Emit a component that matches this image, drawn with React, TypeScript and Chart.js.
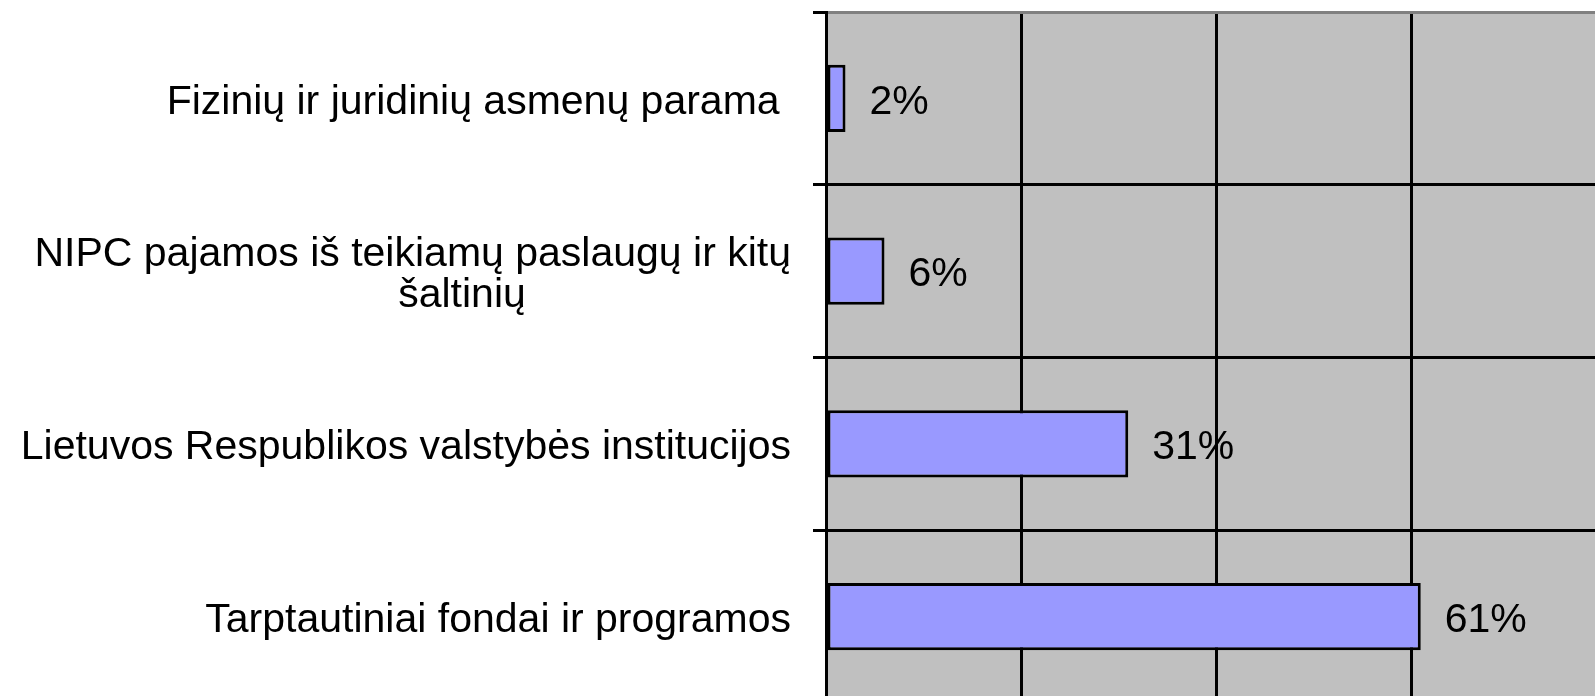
import React, { useEffect, useRef } from "react";
import { Chart, registerables } from "chart.js";

Chart.register(...registerables);

const categories: string[][] = [
  ["Fizinių ir juridinių asmenų parama "],
  ["NIPC pajamos iš teikiamų paslaugų ir kitų", "šaltinių"],
  ["Lietuvos Respublikos valstybės institucijos"],
  ["Tarptautiniai fondai ir programos"],
];
const values: number[] = [2, 6, 31, 61];
const xMin = 0;
const xMax = 80;
const xStep = 20;

const FONT = '41px "Liberation Sans", Arial, sans-serif';

const bgPlugin = {
  id: "plotBg",
  beforeDraw(chart: any) {
    const { ctx, chartArea } = chart;
    ctx.save();
    ctx.fillStyle = "#C0C0C0";
    ctx.fillRect(chartArea.left, chartArea.top, chartArea.right - chartArea.left, chartArea.bottom - chartArea.top);
    ctx.restore();
  },
  afterDraw(chart: any) {
    const { ctx, chartArea } = chart;
    ctx.save();
    ctx.strokeStyle = "#808080";
    ctx.lineWidth = 3;
    ctx.beginPath();
    ctx.moveTo(chartArea.left + 2, chartArea.top + 0.5);
    ctx.lineTo(chartArea.right, chartArea.top + 0.5);
    ctx.stroke();
    ctx.restore();
  },
};

const labelPlugin = {
  id: "labels",
  afterDraw(chart: any) {
    const { ctx, chartArea } = chart;
    const yScale = chart.scales.y;
    ctx.save();
    ctx.font = FONT;
    ctx.fillStyle = "#000";
    ctx.textBaseline = "middle";
    const right = chartArea.left - 35;
    const dy = 4;
    categories.forEach((lines, i) => {
      const cy = yScale.getPixelForValue(i) + dy;
      const lh = 41;
      const y0 = cy - ((lines.length - 1) * lh) / 2;
      lines.forEach((line, j) => {
        if (j === 0) {
          ctx.textAlign = "right";
          ctx.fillText(line, right, y0 + j * lh);
        } else {
          ctx.textAlign = "center";
          ctx.fillText(line, right - 329, y0 + j * lh);
        }
      });
    });
    // value labels
    const meta = chart.getDatasetMeta(0);
    ctx.textAlign = "left";
    meta.data.forEach((el: any, i: number) => {
      ctx.fillText(values[i] + "%", el.x + 24, el.y + dy);
    });
    ctx.restore();
  },
};

export default function App() {
  const ref = useRef<HTMLCanvasElement>(null);
  useEffect(() => {
    if (!ref.current) return;
    const chart = new Chart(ref.current, {
      type: "bar",
      data: {
        labels: categories.map((c) => c.join(" ")),
        datasets: [
          {
            data: values,
            backgroundColor: "#9999FF",
            borderColor: "#000000",
            borderWidth: 3,
            borderSkipped: false,
            categoryPercentage: 1,
            barPercentage: 0.39,
          },
        ],
      },
      options: {
        indexAxis: "y",
        animation: false,
        responsive: false,
        devicePixelRatio: 1,
        layout: { padding: { left: 0, right: 4, top: 12, bottom: 7 } },
        plugins: { legend: { display: false }, tooltip: { enabled: false } },
        scales: {
          x: {
            min: xMin,
            max: xMax,
            ticks: { display: false, stepSize: xStep },
            grid: { color: "#000000", lineWidth: 3, drawTicks: false },
            border: { display: false },
          },
          y: {
            ticks: { display: false },
            grid: { color: "#000000", lineWidth: 3, tickLength: 13, offset: true },
            border: { color: "#000000", width: 3 },
            afterFit: (s: any) => {
              s.width = 826;
            },
          },
        },
      },
      plugins: [bgPlugin, labelPlugin],
    } as any);
    return () => chart.destroy();
  }, []);
  return (
    <div style={{ position: "fixed", left: 0, top: 0, width: 1595, height: 696, overflow: "hidden", background: "#fff" }}>
      <canvas ref={ref} width={1610} height={710} style={{ display: "block", width: 1610, height: 710 }} />
    </div>
  );
}
